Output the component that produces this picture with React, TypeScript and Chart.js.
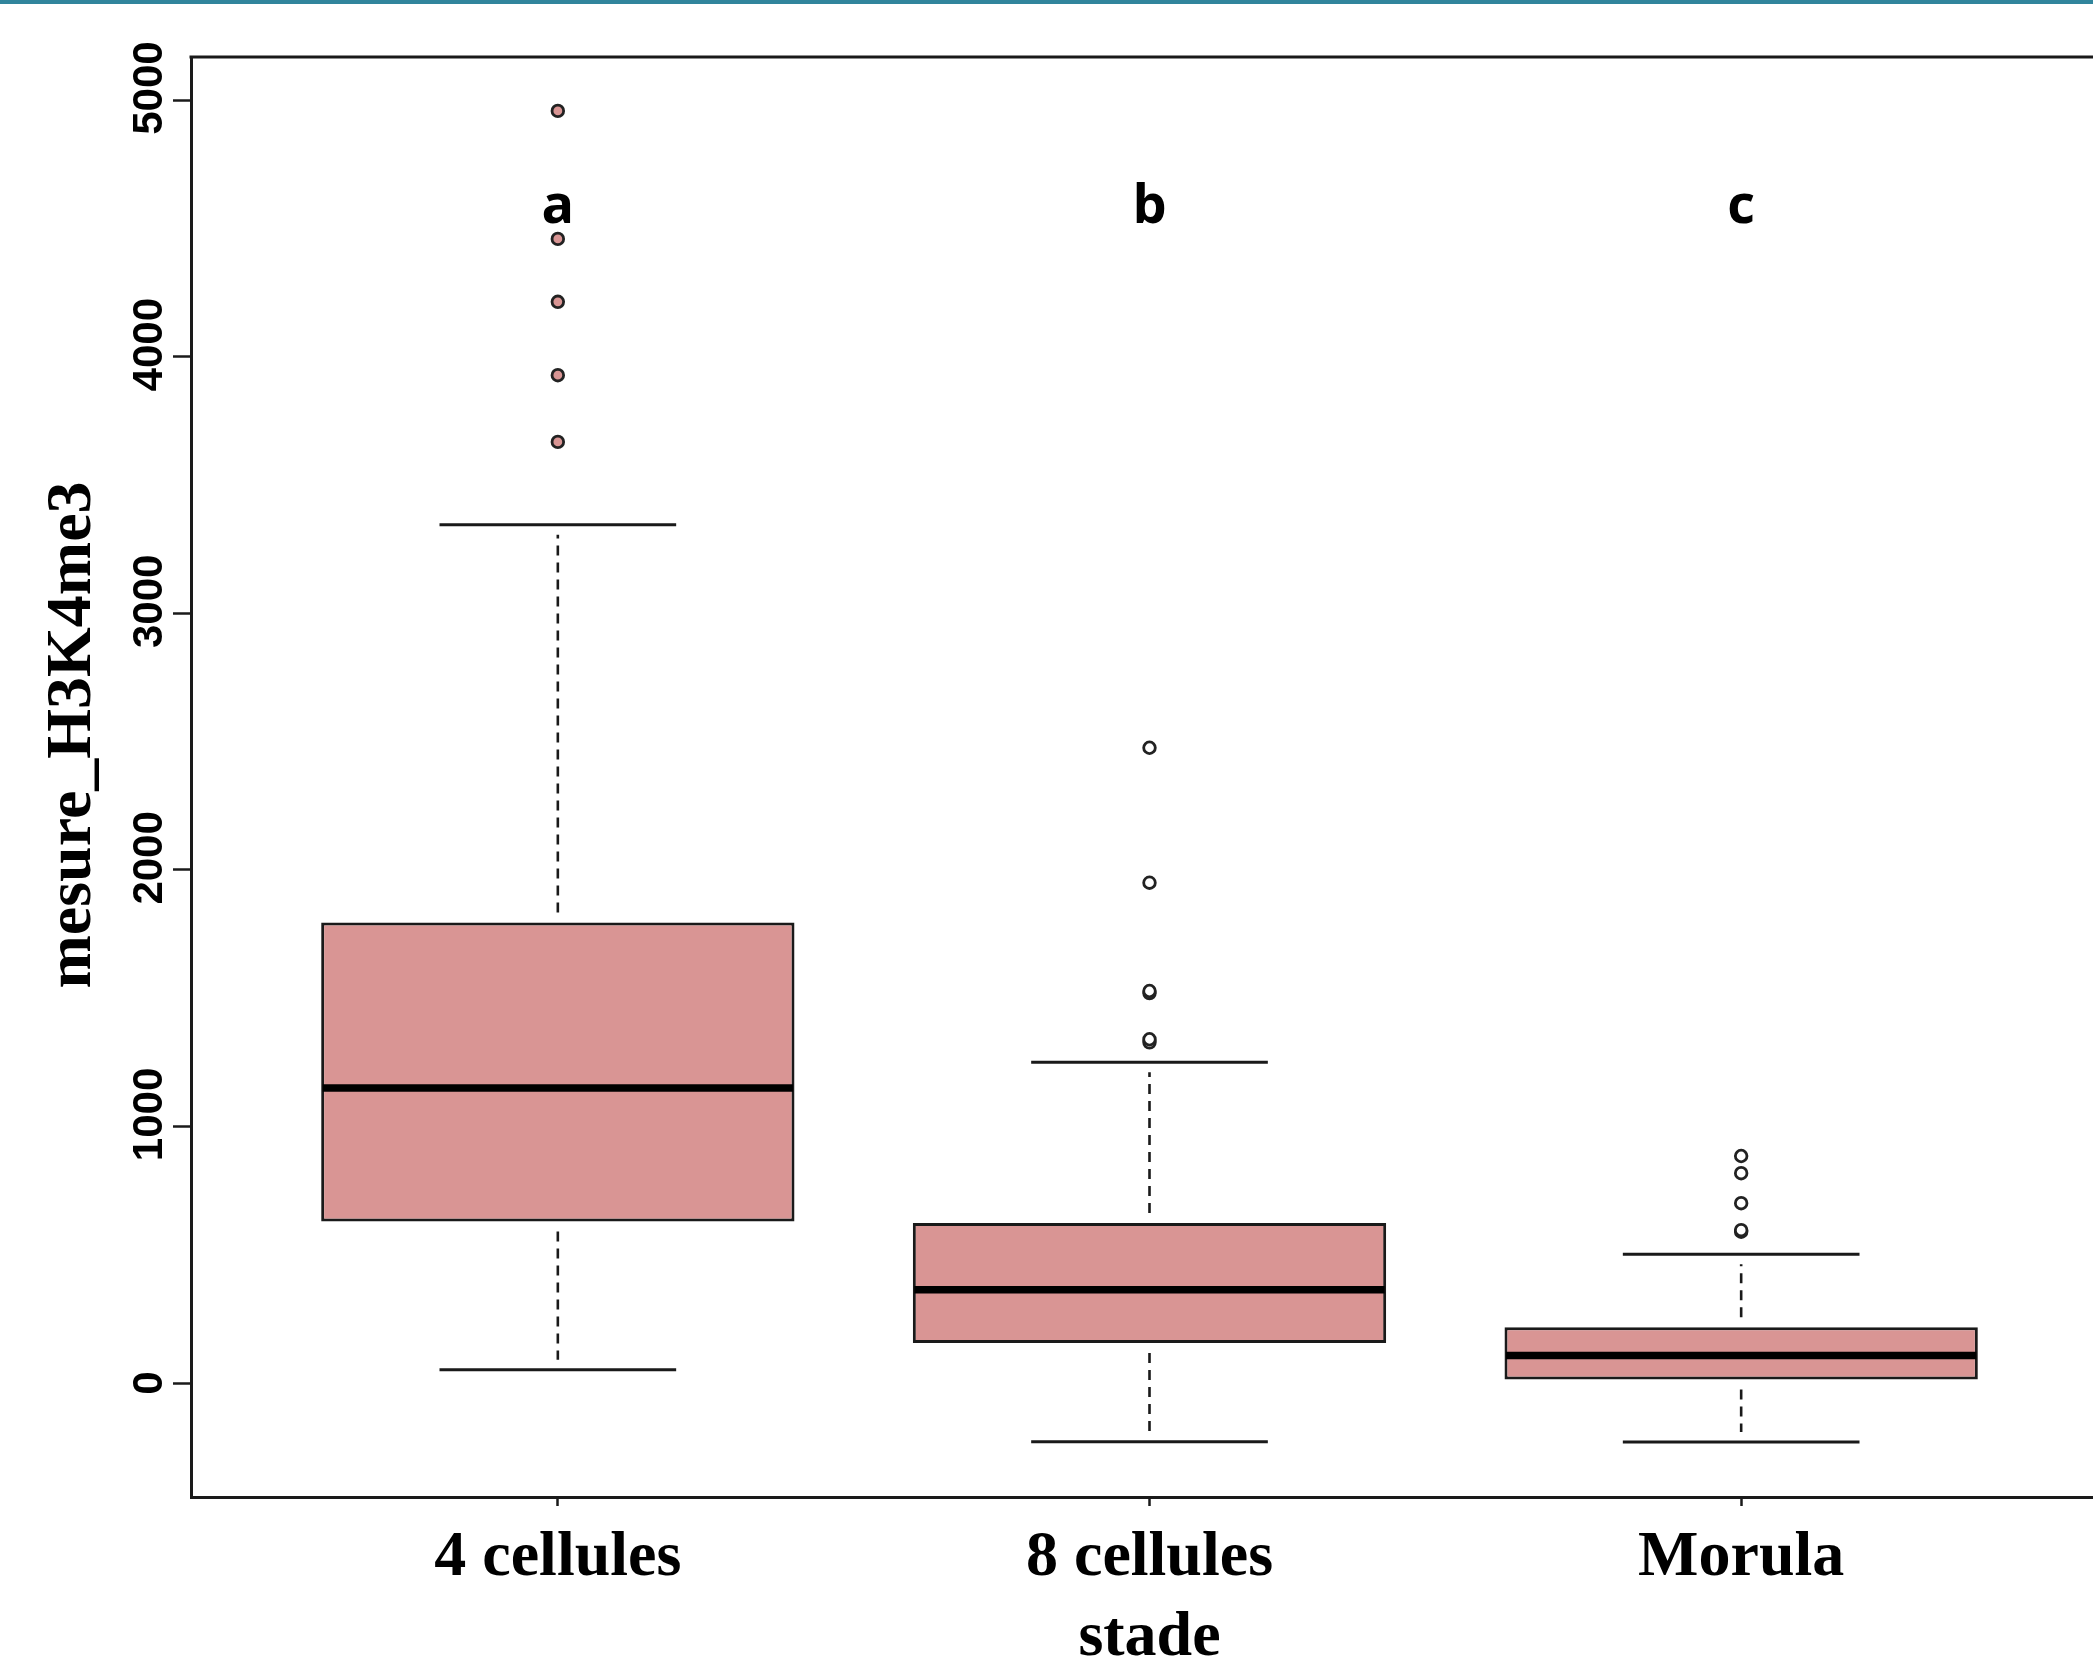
import React, { useEffect, useRef } from 'react';
import { Chart, registerables } from 'chart.js';

Chart.register(...registerables);

// ---------- data ----------
const categories = ['4 cellules', '8 cellules', 'Morula'];
const q1 = [630, 156, 14];
const median = [1150, 364, 107];
const q3 = [1795, 624, 218];
const whiskerLow = [52, -229, -230];
const whiskerHigh = [3345, 1250, 502];
const outliers4cellules = [3668, 3928, 4214, 4459, 4958];
const outliers8cellules = [1328, 1340, 1520, 1528, 1950, 2476];
const outliersMorula = [590, 596, 701, 818, 885];
const groupLetters = ['a', 'b', 'c'];
const groupLetterLevel = 4520;
const yTicks = [0, 1000, 2000, 3000, 4000, 5000];
const yMin = -444;
const yMax = 5168;
const xMin = 0.38;
const xMax = 3.62;
const yAxisTitle = 'mesure_H3K4me3';
const xAxisTitle = 'stade';

const CANVAS_W = 2200;
const CANVAS_H = 1660;
const BOX_FILL = '#D99594';
const INK = '#1a1a1a';
const SERIF = '"Liberation Serif", "Times New Roman", serif';
const SANS = '"Liberation Sans", Arial, sans-serif';

const boxPlugin = {
  id: 'boxExtras',
  afterDatasetsDraw(chart: any) {
    const { ctx, chartArea, scales } = chart;
    const xs = scales.x;
    const ys = scales.y;
    ctx.save();
    categories.forEach((_, i) => {
      const cx = xs.getPixelForValue(i + 1);
      const capL = xs.getPixelForValue(i + 1 - 0.2);
      const capR = xs.getPixelForValue(i + 1 + 0.2);
      const boxL = xs.getPixelForValue(i + 1 - 0.4);
      const boxR = xs.getPixelForValue(i + 1 + 0.4);
      // dashed whiskers
      ctx.strokeStyle = INK;
      ctx.lineWidth = 2.6;
      ctx.setLineDash([10, 7]);
      ctx.beginPath();
      ctx.moveTo(cx, ys.getPixelForValue(q3[i]) - 10);
      ctx.lineTo(cx, ys.getPixelForValue(whiskerHigh[i]) + 10);
      ctx.moveTo(cx, ys.getPixelForValue(q1[i]) + 10);
      ctx.lineTo(cx, ys.getPixelForValue(whiskerLow[i]) - 10);
      ctx.stroke();
      ctx.setLineDash([]);
      // caps
      ctx.lineWidth = 3;
      ctx.beginPath();
      ctx.moveTo(capL, ys.getPixelForValue(whiskerHigh[i]));
      ctx.lineTo(capR, ys.getPixelForValue(whiskerHigh[i]));
      ctx.moveTo(capL, ys.getPixelForValue(whiskerLow[i]));
      ctx.lineTo(capR, ys.getPixelForValue(whiskerLow[i]));
      ctx.stroke();
      // median
      ctx.strokeStyle = '#000';
      ctx.lineWidth = 7.5;
      ctx.beginPath();
      ctx.moveTo(boxL + 1.5, ys.getPixelForValue(median[i]));
      ctx.lineTo(boxR - 1.5, ys.getPixelForValue(median[i]));
      ctx.stroke();
      // group letters
      ctx.fillStyle = '#000';
      ctx.font = 'bold 54px "Open Sans", "Noto Sans", sans-serif';
      ctx.textAlign = 'center';
      ctx.textBaseline = 'alphabetic';
      ctx.fillText(groupLetters[i], cx, ys.getPixelForValue(groupLetterLevel));
    });

    // top border of plot
    ctx.strokeStyle = INK;
    ctx.lineWidth = 3;
    ctx.beginPath();
    ctx.moveTo(chartArea.left - 1.5, chartArea.top);
    ctx.lineTo(chartArea.right, chartArea.top);
    ctx.stroke();

    // y tick labels (rotated)
    ctx.fillStyle = '#000';
    ctx.font = `bold 42px ${SANS}`;
    ctx.textAlign = 'center';
    ctx.textBaseline = 'middle';
    ys.ticks.forEach((t: any) => {
      const label = String(t.value);
      const py = ys.getPixelForValue(t.value) - (label.length - 1) * 4;
      ctx.save();
      ctx.translate(150, py);
      ctx.rotate(-Math.PI / 2);
      ctx.fillText(label, 0, 0);
      ctx.restore();
    });

    // y axis title
    ctx.save();
    ctx.font = `bold 64px ${SERIF}`;
    ctx.textAlign = 'center';
    ctx.textBaseline = 'alphabetic';
    ctx.translate(90, 735);
    ctx.rotate(-Math.PI / 2);
    ctx.fillText(yAxisTitle, 0, 0);
    ctx.restore();

    // x axis title
    ctx.font = `bold 64px ${SERIF}`;
    ctx.textAlign = 'center';
    ctx.textBaseline = 'alphabetic';
    ctx.fillText(xAxisTitle, (chartArea.left + chartArea.right) / 2, 1655);

    // teal band at the very top
    ctx.fillStyle = '#31859C';
    ctx.fillRect(0, 0, chart.width, 4);
    ctx.restore();
  },
};

export default function App() {
  const ref = useRef<HTMLCanvasElement | null>(null);
  useEffect(() => {
    if (!ref.current) return;
    const outlierSets = [outliers4cellules, outliers8cellules, outliersMorula];
    const chart = new Chart(ref.current, {
      type: 'bar',
      data: {
        datasets: [
          {
            type: 'bar',
            label: 'box',
            data: categories.map((_, i) => ({ x: i + 1, y: [q1[i], q3[i]] })) as any,
            backgroundColor: BOX_FILL,
            borderColor: INK,
            borderWidth: 3,
            borderSkipped: false,
            barPercentage: 1,
            categoryPercentage: 0.8,
          } as any,
          ...outlierSets.map((vals, i) => ({
            type: 'scatter',
            label: `out${i}`,
            data: vals.map((v) => ({ x: i + 1, y: v })),
            pointRadius: 5.8,
            pointBorderWidth: 2.8,
            pointBackgroundColor: i === 0 ? BOX_FILL : '#ffffff',
            pointBorderColor: '#222',
            showLine: false,
          })) as any,
        ],
      },
      options: {
        responsive: false,
        animation: false,
        devicePixelRatio: 1,
        layout: { padding: { top: 57, right: CANVAS_W - 2108, left: 0, bottom: 0 } },
        plugins: { legend: { display: false }, tooltip: { enabled: false } },
        scales: {
          x: {
            type: 'linear',
            position: 'bottom',
            min: xMin,
            max: xMax,
            offset: false,
            grid: {
              offset: false,
              drawOnChartArea: false,
              drawTicks: true,
              tickLength: 9,
              tickWidth: 2.5,
              tickColor: INK,
            },
            border: { display: true, color: INK, width: 3 },
            ticks: {
              autoSkip: false,
              maxRotation: 0,
              minRotation: 0,
              padding: 14,
              color: '#000',
              font: { family: SERIF, size: 64, weight: 'bold' },
              callback: (v: any) => categories[Math.round(Number(v)) - 1] ?? '',
            },
            afterBuildTicks: (s: any) => {
              s.ticks = categories.map((_, i) => ({ value: i + 1 }));
            },
            afterFit: (s: any) => {
              s.height = CANVAS_H - 1497;
            },
          } as any,
          y: {
            type: 'linear',
            min: yMin,
            max: yMax,
            grid: {
              drawOnChartArea: false,
              drawTicks: true,
              tickLength: 18,
              tickWidth: 2.5,
              tickColor: INK,
            },
            border: { display: true, color: INK, width: 3 },
            ticks: { display: false },
            afterBuildTicks: (s: any) => {
              s.ticks = yTicks.map((v) => ({ value: v }));
            },
            afterFit: (s: any) => {
              s.width = 191;
            },
          } as any,
        },
      },
      plugins: [boxPlugin],
    });
    return () => chart.destroy();
  }, []);

  return (
    <div
      style={{
        position: 'absolute',
        left: 0,
        top: 0,
        width: 2093,
        height: 1660,
        overflow: 'hidden',
        background: '#ffffff',
      }}
    >
      <canvas ref={ref} width={CANVAS_W} height={CANVAS_H} style={{ display: 'block' }} />
    </div>
  );
}
